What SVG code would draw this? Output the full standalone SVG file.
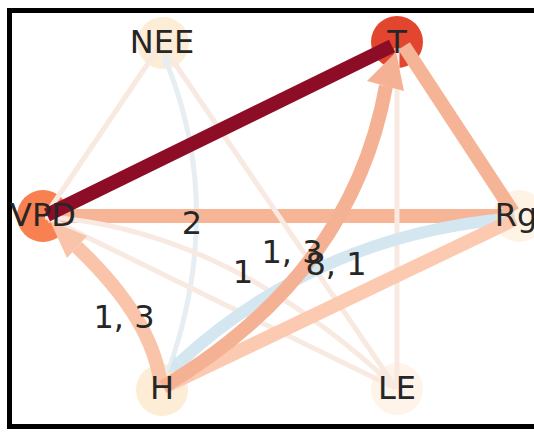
<svg xmlns="http://www.w3.org/2000/svg" width="534" height="432" viewBox="0 0 534 432">
<style>
text{font-family:"DejaVu Sans","Liberation Sans",sans-serif;font-size:32px;fill:#262626;text-anchor:middle}
.e{fill:none;stroke-linecap:butt}
.faint{stroke:#f8e9e1;stroke-width:5}
.thick{stroke-width:14}
</style>
<rect width="534" height="432" fill="#fff"/>
<rect x="9.5" y="10.5" width="560" height="416" fill="none" stroke="#000" stroke-width="5"/>
<g id="nodes">
<g id="node-NEE"><circle cx="163" cy="43" r="26" fill="#fdedd6"/></g>
<g id="node-T"><circle cx="397" cy="42" r="26" fill="#e2462f"/></g>
<g id="node-VPD"><circle cx="43" cy="216" r="26" fill="#f98050"/></g>
<g id="node-Rg"><circle cx="519" cy="216" r="26" fill="#fff3e6"/></g>
<g id="node-H"><circle cx="162" cy="390" r="26" fill="#fdedd6"/></g>
<g id="node-LE"><circle cx="397" cy="389" r="26" fill="#fff4e9"/></g>
</g>
<g id="connectors">
<path class="e" d="M168,372 Q225,211 168,66" stroke="#e6eef3" stroke-width="5"/>
<polygon points="163,52 173.6,63 162.4,67.4" fill="#e6eef3"/>
<path class="e thick" d="M48,216 L510,216" stroke="#f6b597" stroke-width="15"/>
<path class="e faint" d="M157,50 L47,213" stroke="#f9ece4"/>
<path class="e faint" d="M167,52 L394,385" stroke="#f7e7de"/>
<path class="e faint" d="M48,218 L395,388"/>
<path class="e faint" d="M45,217 Q225,228 395,387"/>
<path class="e faint" d="M397,389 L397,48" stroke="#f6e8e3"/>
<path class="e" d="M515,218 Q321,233 180,362" stroke="#d4e6f0" stroke-width="12"/>
<polygon points="168,373 185.4,367.9 174.6,356.1" fill="#d4e6f0"/>
<path class="e thick" d="M515,219 L166,386" stroke="#fbcab1"/>
<path class="e thick" d="M161,388 Q155,321 77,247" stroke="#f9c4a9"/>
<polygon points="50,221 67,258 87,236" fill="#f9c4a9"/>
<path class="e thick" d="M163,387 Q352,275 386,86" stroke="#f5b193"/>
<polygon points="396,52 367,81 404,91" fill="#f5b193"/>
<path class="e thick" d="M513,212 L404,46" stroke="#f6b496"/>
<path class="e thick" d="M47,215 L392,46" stroke="#8d0c26"/>
</g>
<g id="node-labels">
<text id="label-NEE" x="162" y="53">NEE</text>
<text id="label-T" x="397" y="53">T</text>
<text id="label-VPD" x="43" y="226">VPD</text>
<text id="label-Rg" x="516" y="226">Rg</text>
<text id="label-H" x="162" y="399">H</text>
<text id="label-LE" x="397" y="399">LE</text>
</g>
<g id="edge-labels">
<text x="192" y="234">2</text>
<text x="243" y="283">1</text>
<text x="292" y="263">1, 3</text>
<text x="336" y="275">8, 1</text>
<text x="124" y="328">1, 3</text>
</g>
</svg>
